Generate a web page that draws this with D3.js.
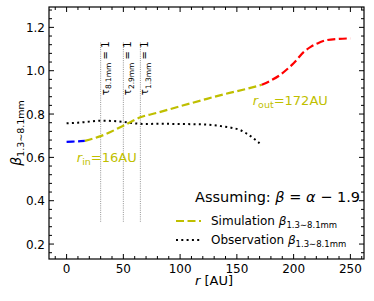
<!DOCTYPE html>
<html>
<head>
<meta charset="utf-8">
<script src="https://cdn.jsdelivr.net/npm/d3@7"></script>
<style>
  body { margin: 0; background: #fff; }
  text { font-family: "DejaVu Sans", sans-serif; }
</style>
</head>
<body>
<div id="chart"></div>
<script>
// simulation beta, split in three pieces (inner / disk / outer)
const simInR = [0, 5, 10, 16];
const simInB = [0.672, 0.673, 0.674, 0.676];
const simMidR = [16, 30, 50, 65, 80, 100, 120, 140, 160, 172];
const simMidB = [0.676, 0.698, 0.746, 0.785, 0.806, 0.836, 0.865, 0.893, 0.918, 0.935];
const simOutR = [172, 180, 188, 195, 200, 209, 215, 221, 229, 240, 250];
const simOutB = [0.935, 0.955, 0.98, 1.01, 1.034, 1.087, 1.11, 1.126, 1.141, 1.147, 1.149];

// observed beta
const obsR = [0, 10, 20, 30, 40, 50, 60, 70, 80, 100, 120, 135, 145, 153, 162, 170];
const obsB = [0.757, 0.76, 0.765, 0.769, 0.768, 0.764, 0.757, 0.754, 0.755, 0.754, 0.752, 0.745, 0.737, 0.726, 0.698, 0.665];

// tau = 1 radii
const tauR = [30, 50, 65];
const tauLabels = ["8.1mm", "2.9mm", "1.3mm"];

const xTicks = [0, 50, 100, 150, 200, 250];
const yTicks = [0.2, 0.4, 0.6, 0.8, 1.0, 1.2];

const width = 374, height = 301;
const margin = { top: 7, right: 10, bottom: 42, left: 49 };
const YEL = "#bfbf00";

const svg = d3.select("#chart").append("svg")
  .attr("width", width).attr("height", height);

const x = d3.scaleLinear().domain([-15.5, 262]).range([margin.left, width - margin.right]);
const y = d3.scaleLinear().domain([0.131, 1.294]).range([height - margin.bottom, margin.top]);

const zip = (a, b) => a.map((v, i) => [v, b[i]]);
const line = d3.line().x(d => x(d[0])).y(d => y(d[1])).curve(d3.curveMonotoneX);

// tau lines
tauR.forEach((r, i) => {
  svg.append("line")
    .attr("x1", x(r)).attr("x2", x(r))
    .attr("y1", y(1.13)).attr("y2", y(0.3))
    .attr("stroke", "#777").attr("stroke-width", 0.8)
    .attr("stroke-dasharray", "1,1.2");
  const t = svg.append("text")
    .attr("transform", `translate(${x(r) + 8},${y(1.135)}) rotate(-90)`)
    .attr("text-anchor", "end")
    .attr("font-size", 10);
  t.append("tspan").text("τ");
  t.append("tspan").attr("font-size", 7.5).attr("dy", 2.5).text(tauLabels[i]);
  t.append("tspan").attr("dy", -2.5).text(" = 1");
});

// curves
svg.append("path").datum(zip(obsR, obsB))
  .attr("fill", "none").attr("stroke", "#000").attr("stroke-width", 2)
  .attr("stroke-dasharray", "2,3.3").attr("d", line);

svg.append("path").datum(zip(simMidR, simMidB))
  .attr("fill", "none").attr("stroke", YEL).attr("stroke-width", 2.2)
  .attr("stroke-dasharray", "8,3.5").attr("d", line);
svg.append("path").datum(zip(simInR, simInB))
  .attr("fill", "none").attr("stroke", "#0000ff").attr("stroke-width", 2.2)
  .attr("stroke-dasharray", "8,3.5").attr("d", line);
svg.append("path").datum(zip(simOutR, simOutB))
  .attr("fill", "none").attr("stroke", "#ff0000").attr("stroke-width", 2.2)
  .attr("stroke-dasharray", "8,3.5").attr("d", line);

// annotations
const rin = svg.append("text").attr("x", x(9)).attr("y", y(0.58))
  .attr("fill", YEL).attr("font-size", 13);
rin.append("tspan").attr("font-style", "italic").text("r");
rin.append("tspan").attr("font-size", 9.5).attr("dy", 3).text("in");
rin.append("tspan").attr("dy", -3).text("=16AU");

const rout = svg.append("text").attr("x", x(164)).attr("y", y(0.84))
  .attr("fill", YEL).attr("font-size", 13);
rout.append("tspan").attr("font-style", "italic").text("r");
rout.append("tspan").attr("font-size", 9.5).attr("dy", 3).text("out");
rout.append("tspan").attr("dy", -3).text("=172AU");

// legend
svg.append("text").attr("x", 360).attr("y", 202).attr("text-anchor", "end")
  .attr("font-size", 14.5)
  .html('Assuming: <tspan font-style="italic">β</tspan> = <tspan font-style="italic">α</tspan> − 1.9');

const legend = [
  { name: "Simulation ", color: YEL, dash: "8,3.5", yy: 221 },
  { name: "Observation ", color: "#000", dash: "2,3.3", yy: 240 }
];
legend.forEach(d => {
  svg.append("line").attr("x1", 176).attr("x2", 201).attr("y1", d.yy).attr("y2", d.yy)
    .attr("stroke", d.color).attr("stroke-width", 2).attr("stroke-dasharray", d.dash);
  const t = svg.append("text").attr("x", 211).attr("y", d.yy + 4).attr("font-size", 12);
  t.append("tspan").text(d.name);
  t.append("tspan").attr("font-style", "italic").text("β");
  t.append("tspan").attr("font-size", 8.5).attr("dy", 3).text("1.3∼8.1mm");
});

// axes, ticks pointing in on all sides
const bottom = height - margin.bottom, right = width - margin.right;
const tickG = svg.append("g").attr("stroke", "#000").attr("stroke-width", 1);
d3.range(-10, 261, 10).forEach(v => {
  const len = v % 50 === 0 ? 5 : 3;
  tickG.append("line").attr("x1", x(v)).attr("x2", x(v)).attr("y1", bottom).attr("y2", bottom - len);
  tickG.append("line").attr("x1", x(v)).attr("x2", x(v)).attr("y1", margin.top).attr("y2", margin.top + len);
});
d3.range(0.16, 1.29, 0.04).forEach(v => {
  const major = Math.abs(Math.round(v * 10) - v * 10) < 1e-6 && Math.round(v * 10) % 2 === 0;
  const len = major ? 5 : 3;
  tickG.append("line").attr("y1", y(v)).attr("y2", y(v)).attr("x1", margin.left).attr("x2", margin.left + len);
  tickG.append("line").attr("y1", y(v)).attr("y2", y(v)).attr("x1", right).attr("x2", right - len);
});

svg.append("rect").attr("x", margin.left).attr("y", margin.top)
  .attr("width", right - margin.left).attr("height", bottom - margin.top)
  .attr("fill", "none").attr("stroke", "#000").attr("stroke-width", 1.2);

svg.selectAll(".xl").data(xTicks).join("text")
  .attr("x", d => x(d)).attr("y", bottom + 14).attr("text-anchor", "middle")
  .attr("font-size", 12).text(d => d);
svg.selectAll(".yl").data(yTicks).join("text")
  .attr("x", margin.left - 4).attr("y", d => y(d) + 4.5).attr("text-anchor", "end")
  .attr("font-size", 12).text(d => d.toFixed(1));

const xl = svg.append("text").attr("x", 214).attr("y", 285).attr("text-anchor", "middle")
  .attr("font-size", 13);
xl.append("tspan").attr("font-style", "italic").text("r");
xl.append("tspan").text(" [AU]");

const yl = svg.append("text")
  .attr("transform", `translate(21,${(margin.top + bottom) / 2}) rotate(-90)`)
  .attr("text-anchor", "middle").attr("font-size", 14);
yl.append("tspan").attr("font-style", "italic").text("β");
yl.append("tspan").attr("font-size", 9.5).attr("dy", 3).text("1.3∼8.1mm");
</script>
</body>
</html>
